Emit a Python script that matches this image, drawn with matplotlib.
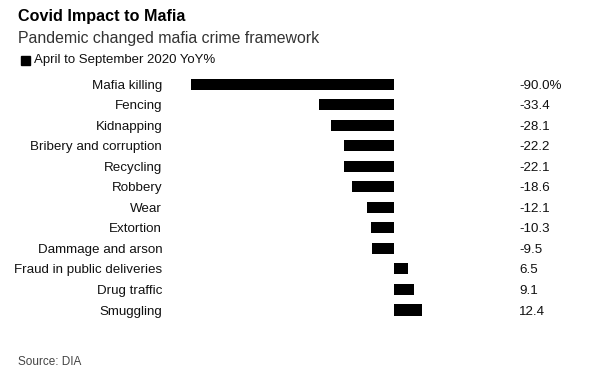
import matplotlib
matplotlib.use("Agg")
import matplotlib.pyplot as plt
import matplotlib.transforms as mtransforms

plt.rcParams["font.family"] = ["Liberation Sans", "DejaVu Sans"]

categories = [
    "Mafia killing",
    "Fencing",
    "Kidnapping",
    "Bribery and corruption",
    "Recycling",
    "Robbery",
    "Wear",
    "Extortion",
    "Dammage and arson",
    "Fraud in public deliveries",
    "Drug traffic",
    "Smuggling",
]
values = [-90.0, -33.4, -28.1, -22.2, -22.1, -18.6, -12.1, -10.3, -9.5, 6.5, 9.1, 12.4]
value_labels = ["-90.0%", "-33.4", "-28.1", "-22.2", "-22.1", "-18.6",
                "-12.1", "-10.3", "-9.5", "6.5", "9.1", "12.4"]

W, H = 592, 374
fig = plt.figure(figsize=(W / 100, H / 100), dpi=100)
fig.patch.set_facecolor("white")

# axes placed in pixel terms: zero line ~393px, -90 at ~191px
left_px, right_px = 191.3, 421.7
top_px, bottom_px = 73.8, 320.3
ax = fig.add_axes([left_px / W, 1 - bottom_px / H,
                   (right_px - left_px) / W, (bottom_px - top_px) / H])

ypos = list(range(len(categories)))
ax.barh(ypos, values, height=0.54, color="black")
ax.set_xlim(-90, 12.4)
ax.set_ylim(len(categories) - 0.5, -0.5)

ax.set_yticks(ypos)
ax.set_yticklabels(categories, fontsize=9.6, color="#111111")
ax.tick_params(axis="y", length=0, pad=21)
ax.set_xticks([])
for s in ax.spines.values():
    s.set_visible(False)

trans = mtransforms.blended_transform_factory(fig.transFigure, ax.transData)
for y, lab in zip(ypos, value_labels):
    ax.text(519 / W, y, lab, transform=trans, ha="left", va="center_baseline",
            fontsize=9.6, color="#111111")

fig.text(18 / W, 1 - 17 / H, "Covid Impact to Mafia", fontsize=11.6,
         fontweight="bold", ha="left", va="center", color="black")
fig.text(18 / W, 1 - 38 / H, "Pandemic changed mafia crime framework",
         fontsize=11.4, ha="left", va="center", color="#333333")
fig.patches.append(plt.Rectangle((21 / W, 1 - 65 / H), 9 / W, 9 / H,
                                 transform=fig.transFigure, color="black"))
fig.text(34 / W, 1 - 60 / H, "April to September 2020 YoY%", fontsize=9.5,
         ha="left", va="center", color="#111111")
fig.text(18 / W, 1 - 362 / H, "Source: DIA", fontsize=8.5,
         ha="left", va="center", color="#444444")

fig.savefig("out.png", dpi=100, facecolor="white")
